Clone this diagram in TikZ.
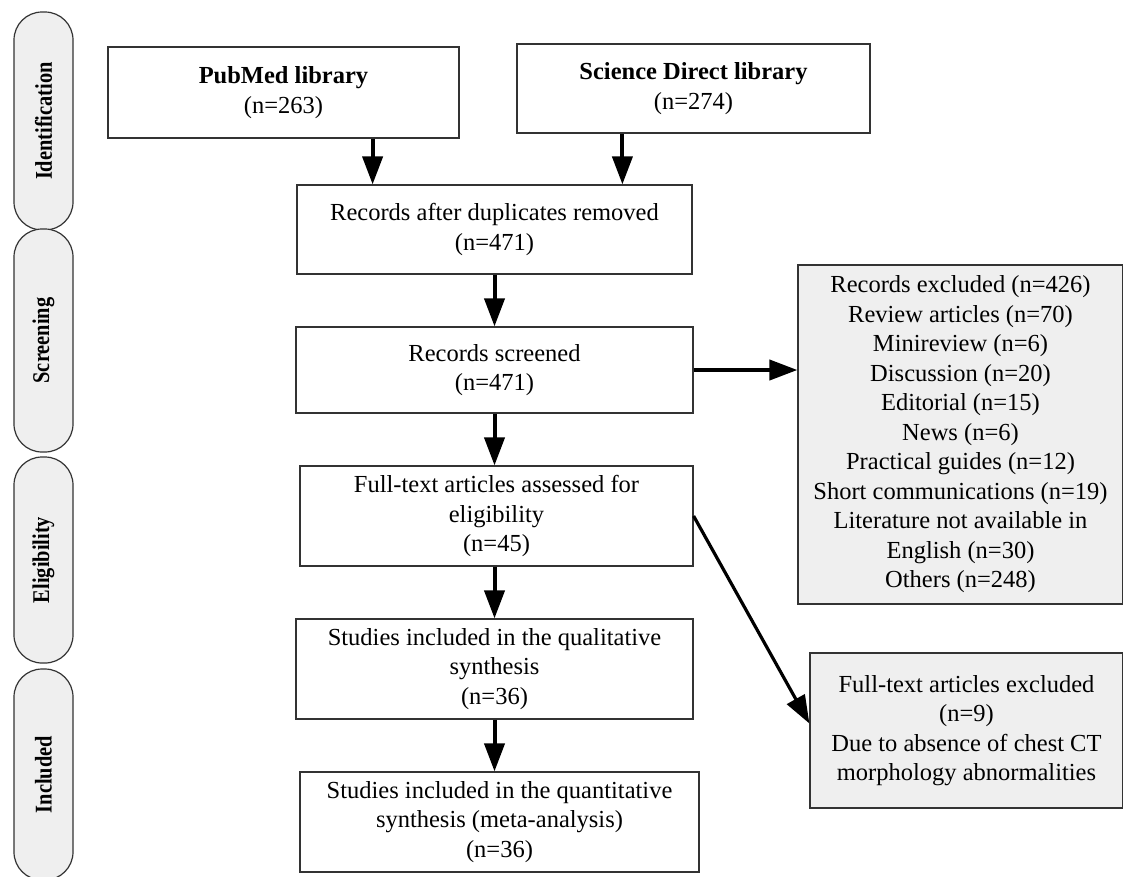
\documentclass[tikz,border=0pt]{standalone}
\usepackage{fontspec}
\usepackage{graphicx}
\setmainfont{Liberation Serif}
\usetikzlibrary{arrows.meta,calc}
\definecolor{boxgray}{HTML}{EFEFEF}
\definecolor{edge}{HTML}{333333}
\newcommand{\phasetext}[1]{\scalebox{0.85}[1]{#1}}
\tikzset{
  flowbox/.style={draw=edge, line width=1.2pt, fill=white, align=center, inner sep=0pt,
    font=\fontsize{24.5}{29.5}\selectfont},
  exclbox/.style={flowbox, fill=boxgray},
  phasebox/.style={draw=edge, line width=1.2pt, fill=boxgray, rounded corners=28pt,
    rotate=90, minimum height=59pt, inner sep=0pt,
    font=\fontsize{24}{26}\selectfont\bfseries},
  arr/.style={line width=4pt, -{Triangle[length=28pt,width=20pt]}},
  thinarr/.style={line width=3.2pt, -{Triangle[length=28pt,width=20pt]}},
}
\begin{document}
\begin{tikzpicture}[x=1pt,y=-1pt]
\useasboundingbox (0,0) rectangle (1123,876);
% phase labels
\node[phasebox, minimum width=218pt] (ident) at (43.5,121) {\phasetext{Identification}};
\node[phasebox, minimum width=223pt] (screen) at (43.5,340.5) {\phasetext{Screening}};
\node[phasebox, minimum width=206pt] (elig) at (43.5,560) {\phasetext{Eligibility}};
\node[phasebox, minimum width=211pt] (incl) at (43.5,774.5) {\phasetext{Included}};
% main boxes
\node[flowbox, minimum width=351pt, minimum height=91pt] (pub) at (283.5,92.5) {\textbf{PubMed library}\\(n=263)};
\node[flowbox, minimum width=353pt, minimum height=89pt] (sd) at (693.5,88.5) {\textbf{Science Direct library}\\(n=274)};
\node[flowbox, minimum width=395pt, minimum height=89pt] (dup) at (494.5,229.5) {Records after duplicates removed\\(n=471)};
\node[flowbox, minimum width=397pt, minimum height=86pt] (scr) at (494.5,370) {Records screened\\(n=471)};
\node[flowbox, minimum width=393pt, minimum height=100pt] (full) at (496.5,516) {Full-text articles assessed for\\eligibility\\(n=45)};
\node[flowbox, minimum width=397pt, minimum height=100pt] (qual) at (494.5,669) {Studies included in the qualitative\\synthesis\\(n=36)};
\node[flowbox, minimum width=399pt, minimum height=100pt] (quant) at (499.5,822) {Studies included in the quantitative\\synthesis (meta-analysis)\\(n=36)};
% exclusion boxes
\node[exclbox, minimum width=325pt, minimum height=339pt] (exc) at (960.5,434.5) {Records excluded (n=426)\\Review articles (n=70)\\Minireview (n=6)\\Discussion (n=20)\\Editorial (n=15)\\News (n=6)\\Practical guides (n=12)\\Short communications (n=19)\\Literature not available in\\English (n=30)\\Others (n=248)};
\node[exclbox, minimum width=313pt, minimum height=155pt] (fexc) at (966.5,730.5) {Full-text articles excluded\\(n=9)\\Due to absence of chest CT\\morphology abnormalities};
% connectors
\draw[arr] ([xshift=-87pt]pub.south east) -- ([xshift=-87pt]pub.south east |- dup.north);
\draw[arr] ([xshift=106pt]sd.south west) -- ([xshift=106pt]sd.south west |- dup.north);
\draw[arr] (dup.south) -- (scr.north);
\draw[arr] (scr.south) -- (scr.south |- full.north);
\draw[arr] (full.south -| scr.south) -- (scr.south |- qual.north);
\draw[arr] (qual.south) -- (qual.south |- quant.north);
\draw[arr] (scr.east) -- (scr.east -| exc.west);
\draw[thinarr] (full.east) -- ([yshift=7pt]fexc.west);
\end{tikzpicture}
\end{document}
